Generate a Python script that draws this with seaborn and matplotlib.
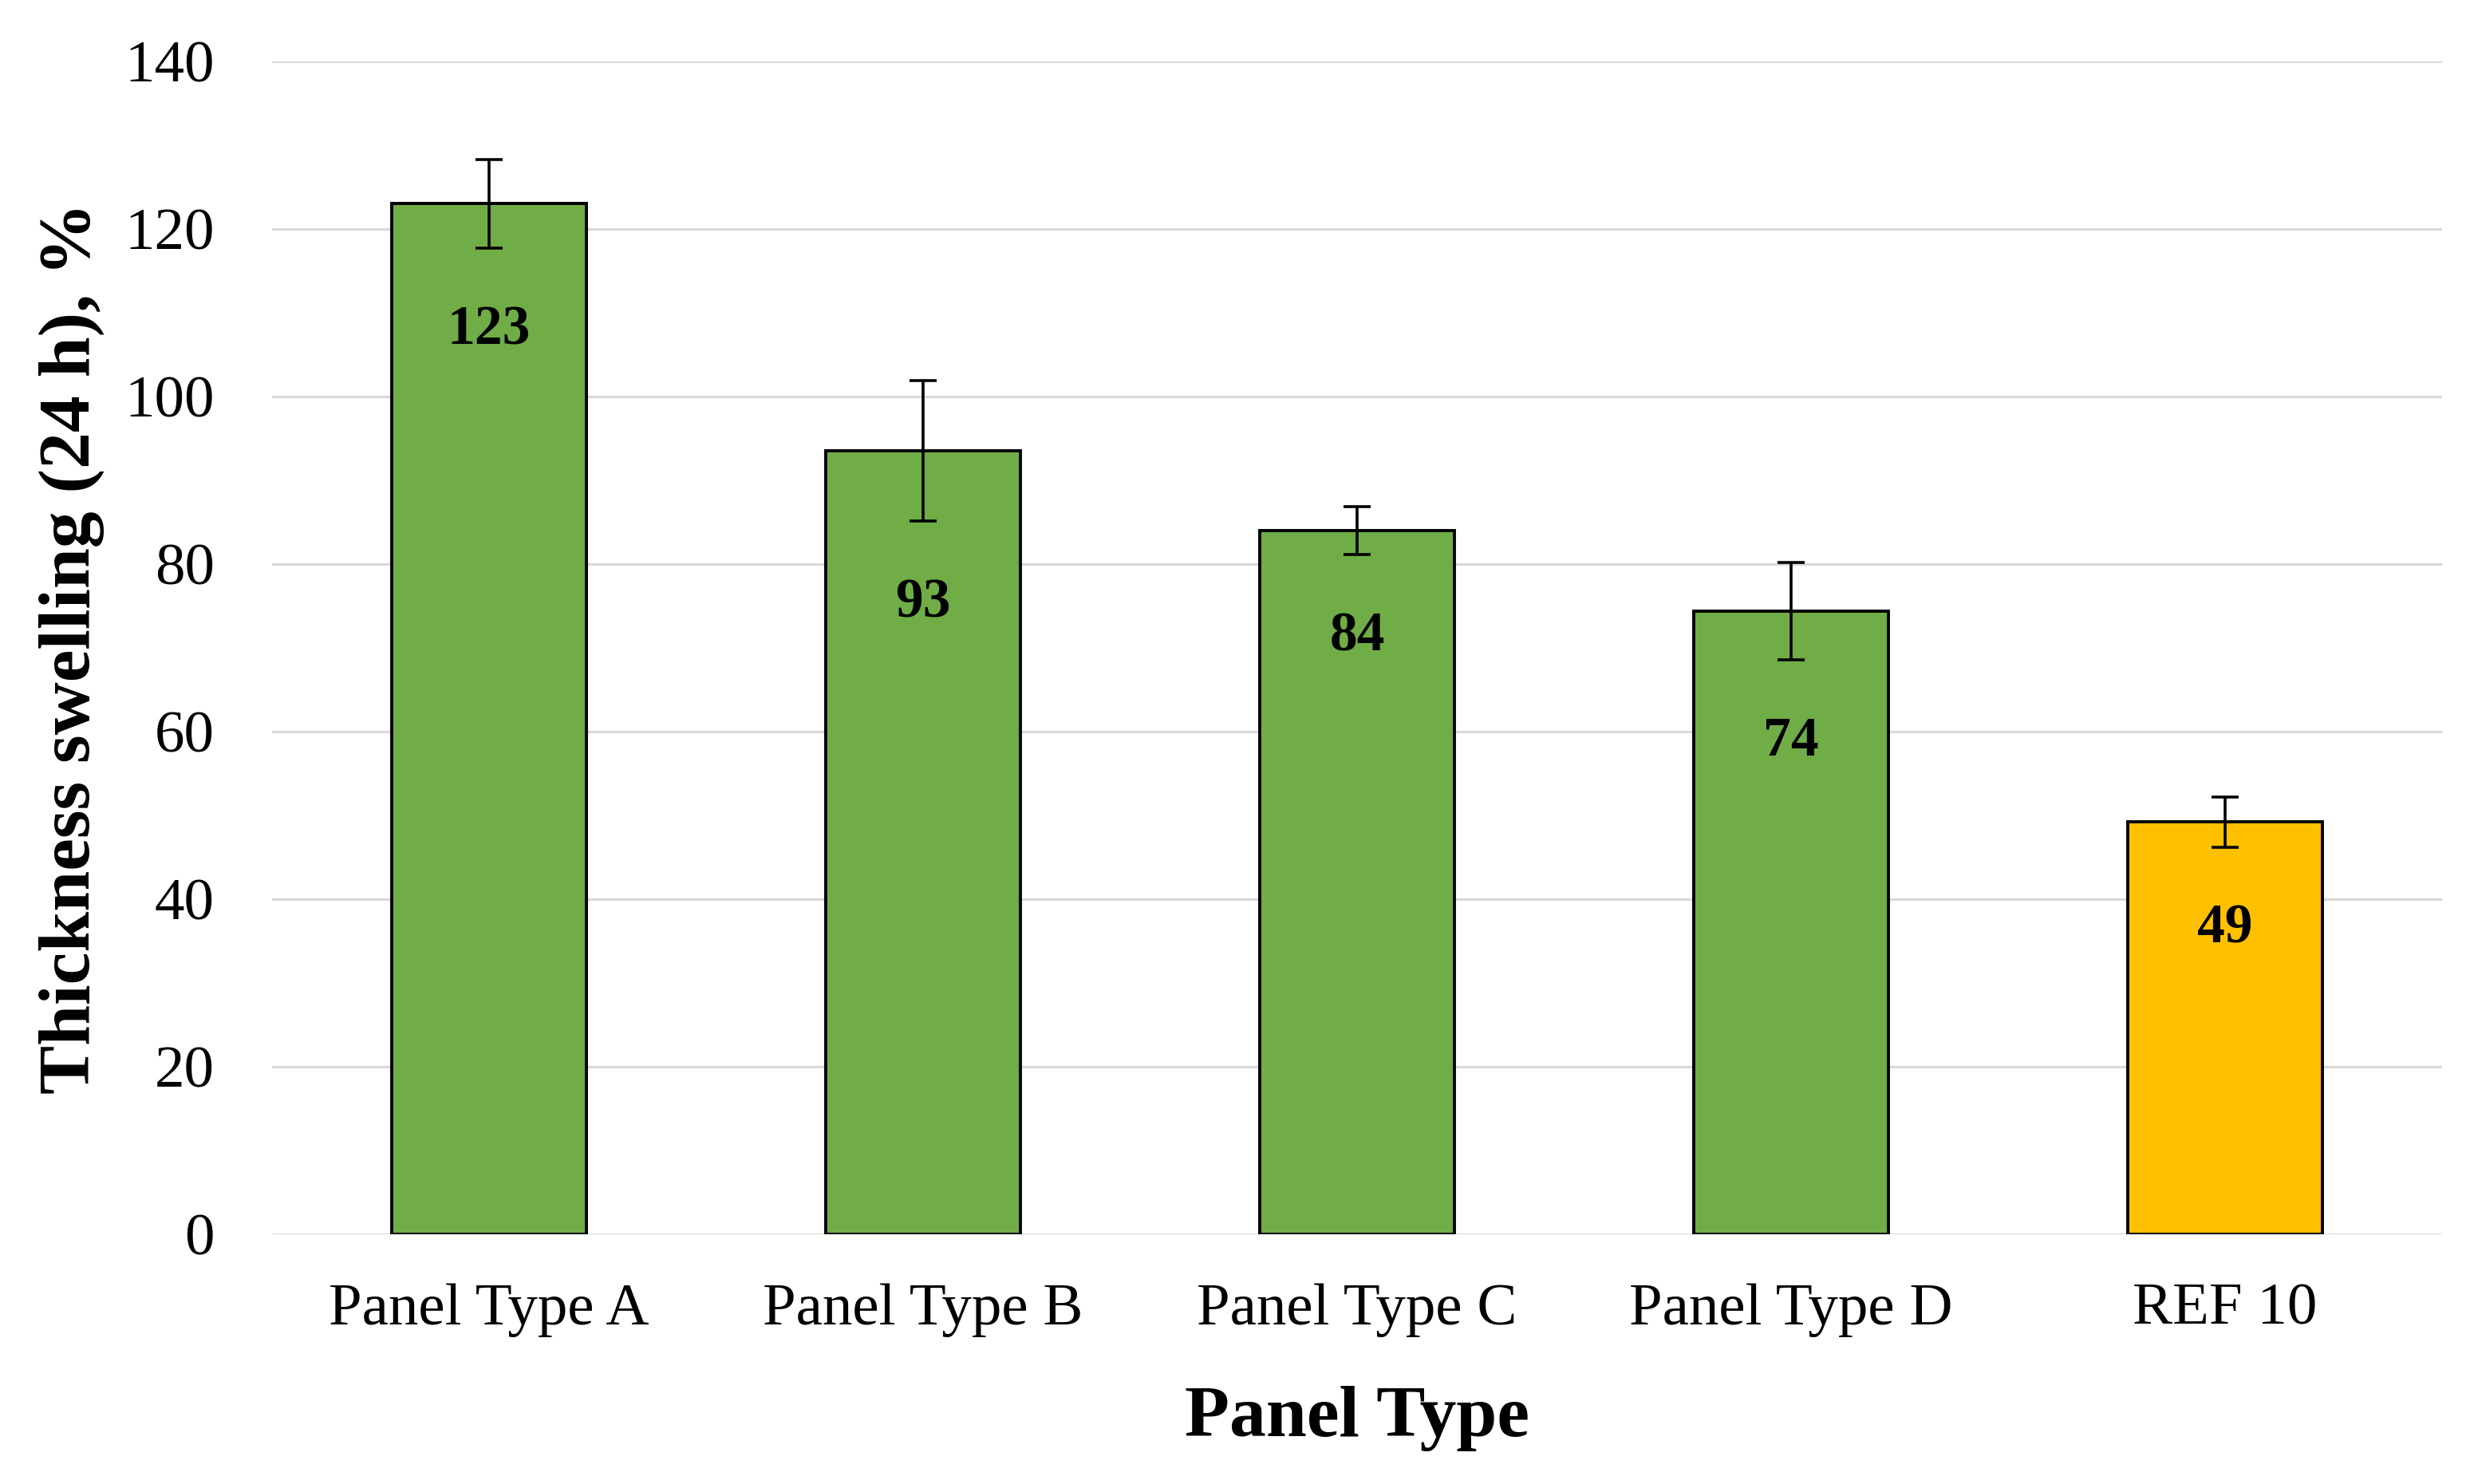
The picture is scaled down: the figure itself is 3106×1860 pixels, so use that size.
import matplotlib
matplotlib.use("Agg")
import matplotlib.pyplot as plt
import seaborn as sns
import pandas as pd
import numpy as np

# ---- data ----
categories = ["Panel Type A", "Panel Type B", "Panel Type C", "Panel Type D", "REF 10"]
values = [123, 93.5, 84, 74.4, 49.2]
errors = [5.3, 8.4, 2.9, 5.8, 3.0]
labels = ["123", "93", "84", "74", "49"]
colors = ["#70AD47", "#70AD47", "#70AD47", "#70AD47", "#FFC000"]
yticks = [0, 20, 40, 60, 80, 100, 120, 140]

sns.set_theme(style="white")
plt.rcParams["font.family"] = ["Liberation Serif", "DejaVu Serif"]
plt.rcParams["text.color"] = "black"
plt.rcParams["axes.labelcolor"] = "black"
plt.rcParams["xtick.color"] = "black"
plt.rcParams["ytick.color"] = "black"

df = pd.DataFrame({"cat": categories, "val": values})

fig = plt.figure(figsize=(15.53, 9.30), dpi=200)
ax = fig.add_axes([0.1098, 0.1683, 0.8757, 0.7903])

sns.barplot(data=df, x="cat", y="val", hue="cat", palette=colors, legend=False,
            saturation=1, width=0.448, edgecolor="black", linewidth=1.4,
            ax=ax, zorder=3)

xs = np.arange(len(categories))
ax.errorbar(xs, values, yerr=errors, fmt="none", ecolor="black",
            elinewidth=1.3, capsize=6, capthick=1.3, zorder=4)

for x, v, e, t in zip(xs, values, errors, labels):
    ax.text(x, v - e - 9.8, t, ha="center", va="center", fontsize=25,
            fontweight="bold", color="black", zorder=5)

ax.set_ylim(0, 140)
ax.set_xlim(-0.5, 4.5)
ax.set_yticks(yticks)
ax.yaxis.grid(True, color="#d9d9d9", linewidth=1.1, zorder=0)
ax.set_axisbelow(True)
for s in ax.spines.values():
    s.set_visible(False)

ax.tick_params(axis="y", length=0, pad=26, labelsize=27)
ax.tick_params(axis="x", length=0, pad=22, labelsize=27)

ax.set_xlabel("Panel Type", fontsize=33, fontweight="bold", labelpad=22)
ax.set_ylabel("Thickness swelling (24 h), %", fontsize=33, fontweight="bold", labelpad=9)

fig.savefig("out.png", dpi=200, facecolor="white")
